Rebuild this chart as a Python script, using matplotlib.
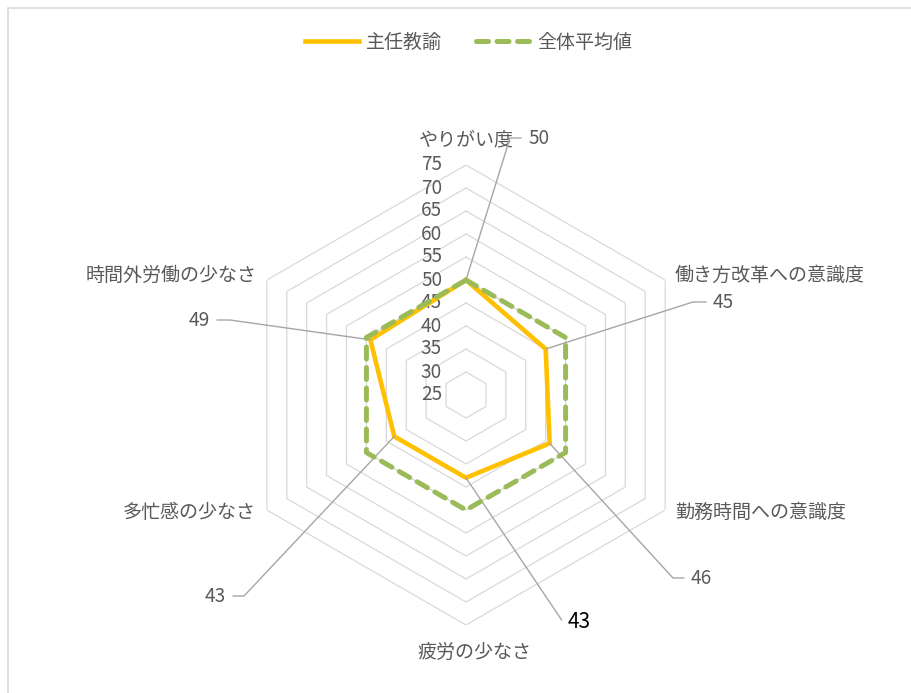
import numpy as np
import matplotlib
matplotlib.use("Agg")
import matplotlib.pyplot as plt
from matplotlib.patches import Rectangle

plt.rcParams['font.family'] = ['Noto Sans CJK JP', 'DejaVu Sans']

categories = ['やりがい度', '働き方改革への意識度', '勤務時間への意識度',
              '疲労の少なさ', '多忙感の少なさ', '時間外労働の少なさ']
shunin = [50, 45, 46, 43, 43, 49]
zentai = [50, 50, 50, 50, 50, 50]
series_names = ['主任教諭', '全体平均値']
r_ticks = [25, 30, 35, 40, 45, 50, 55, 60, 65, 70, 75]

TXT = '#595959'
GRID = '#D9D9D9'
ORANGE = '#FFC000'
GREEN = '#9BBB59'
FS = 13.7

W, H = 912, 693
fig = plt.figure(figsize=(W / 100, H / 100), dpi=100)

# chart area border
fig.patches.append(Rectangle((8, -20), 940, H - 8 + 20, transform=None,
                             fill=False, edgecolor=GRID, lw=1.2))

cx, cy, R = 466, H - 395, 230
ax = fig.add_axes([(cx - R) / W, (cy - R) / H, 2 * R / W, 2 * R / H],
                  projection='polar')
ax.set_theta_offset(np.pi / 2)
ax.set_theta_direction(-1)
ax.set_ylim(r_ticks[0], r_ticks[-1])
ax.grid(False)
ax.spines['polar'].set_visible(False)
ax.set_xticks([])
ax.set_yticks([])
ax.patch.set_visible(False)

n = len(categories)
theta = np.linspace(0, 2 * np.pi, n, endpoint=False)
theta_c = np.append(theta, theta[0])

# hexagonal grid
for r in r_ticks[1:]:
    ax.plot(theta_c, [r] * (n + 1), color=GRID, lw=0.9, zorder=1)

# radial tick labels
for r in r_ticks:
    ax.annotate(str(r), xy=(0, r), xytext=(-24, 0), textcoords='offset pixels',
                ha='right', va='center', fontsize=FS, color=TXT)

# series
ax.plot(theta_c, shunin + shunin[:1], color=ORANGE, lw=3.3, zorder=3,
        label=series_names[0], solid_joinstyle='miter')
ax.plot(theta_c, zentai + zentai[:1], color=GREEN, lw=3.6, zorder=4,
        label=series_names[1], linestyle=(0, (2.4, 1.7)),
        dash_capstyle='round')

# category labels (offsets from outer vertex, in pixels)
cat_pos = [((0, 25), 'center'), ((9, 5), 'left'), ((10, -2), 'left'),
           ((8, -27), 'center'), ((-11, -3), 'right'), ((-10, 5), 'right')]
for t, name, (off, ha) in zip(theta, categories, cat_pos):
    ax.annotate(name, xy=(t, r_ticks[-1]), xytext=off,
                textcoords='offset pixels', ha=ha, va='center',
                fontsize=FS, color=TXT, annotation_clip=False)

# data labels with leader lines (text anchor in figure pixels, elbow length)
lab_pos = [(528, H - 138, 'left', 14), (713, H - 302, 'left', 16),
           (691, H - 578, 'left', 14), (568, H - 622, 'left', 1),
           (226, H - 596, 'right', 14), (210, H - 320, 'right', 16)]
for i, (t, v) in enumerate(zip(theta, shunin)):
    tx, ty, ha, el = lab_pos[i]
    px, py = ax.transData.transform((t, v))
    ex = tx - 4 - el if ha == 'left' else tx + 4 + el
    angB = np.degrees(np.arctan2(ty - py, ex - px))
    bold = i == 3
    ax.annotate(str(v), xy=(t, v), xytext=(tx, ty), textcoords='figure pixels',
                ha=ha, va='center', fontsize=15 if bold else FS,
                color='black' if bold else TXT, annotation_clip=False,
                arrowprops=dict(arrowstyle='-', color='#A6A6A6', lw=1.0,
                                shrinkA=3, shrinkB=0,
                                relpos=(0, 0.5) if ha == 'left' else (1, 0.5),
                                connectionstyle=f'angle,angleA=0,angleB={angB},rad=0'))

fig.legend(loc='upper center', bbox_to_anchor=(0.514, 1 - 15 / H), ncol=2,
           frameon=False, fontsize=FS, labelcolor=TXT, handlelength=2.8,
           columnspacing=1.8, handletextpad=0.4)

fig.savefig('out.png', dpi=100)
